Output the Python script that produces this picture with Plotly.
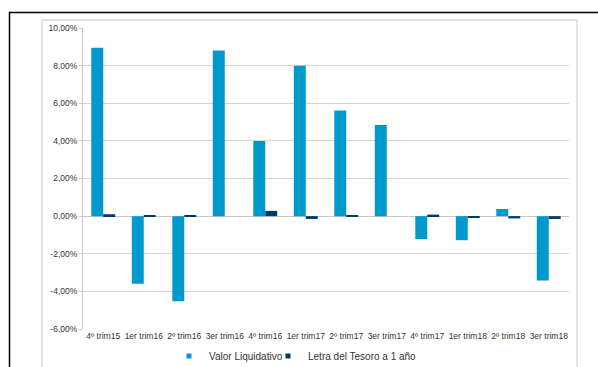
import plotly.graph_objects as go

categories = ["4º trim15", "1er trim16", "2º trim16", "3er trim16", "4º trim16", "1er trim17",
              "2º trim17", "3er trim17", "4º trim17", "1er trim18", "2º trim18", "3er trim18"]
valor_liquidativo = [8.95, -3.60, -4.52, 8.80, 4.00, 8.00, 5.62, 4.85, -1.22, -1.28, 0.38, -3.42]
letra_tesoro = [0.10, 0.02, 0.02, 0.00, 0.28, -0.15, 0.02, 0.00, 0.08, -0.08, -0.12, -0.15]
y_ticks = [-6, -4, -2, 0, 2, 4, 6, 8, 10]

BLUE = "#0099CC"
NAVY = "#003A66"
FONT = "Liberation Sans, Arial, sans-serif"

fig = go.Figure()
fig.add_trace(go.Bar(x=categories, y=valor_liquidativo, name="Valor Liquidativo",
                     marker=dict(color=BLUE, line=dict(width=0)), legendgroup="vl",
                     showlegend=False))
fig.add_trace(go.Bar(x=categories, y=letra_tesoro, name="Letra del Tesoro a 1 año",
                     marker=dict(color=NAVY, line=dict(width=0)), legendgroup="lt",
                     showlegend=False))
# legend entries with small square keys (as in the original Excel legend)
fig.add_trace(go.Scatter(x=[None], y=[None], mode="markers", name="Valor Liquidativo",
                         marker=dict(symbol="square", size=5, color=BLUE),
                         legendgroup="vl", legend="legend", hoverinfo="skip"))
fig.add_trace(go.Scatter(x=[None], y=[None], mode="markers", name="Letra del Tesoro a 1 año",
                         marker=dict(symbol="square", size=5, color=NAVY),
                         legendgroup="lt", legend="legend2", hoverinfo="skip"))

W, H = 598, 367
L, R, T, B = 83, 569, 28, 329
pw, ph = R - L, B - T


def px(x):
    return (x - L) / pw


def py(y):
    return (B - y) / ph


shapes = [
    # light grey chart-area frame
    dict(type="rect", xref="paper", yref="paper", x0=px(42), x1=px(577), y0=py(400), y1=py(20),
         line=dict(color="#C8C8C8", width=1), fillcolor="rgba(0,0,0,0)", layer="below"),
    # black outer frame (top and left)
    dict(type="line", xref="paper", yref="paper", x0=px(9), x1=px(620), y0=py(12.5), y1=py(12.5),
         line=dict(color="#000000", width=1.5)),
    dict(type="line", xref="paper", yref="paper", x0=px(9.5), x1=px(9.5), y0=py(12), y1=py(400),
         line=dict(color="#000000", width=1.5)),
]

legend_style = dict(orientation="h", xanchor="left", yanchor="middle", y=py(356),
                    font=dict(size=10, color="#333333"), bgcolor="rgba(0,0,0,0)",
                    itemwidth=30, tracegroupgap=0, indentation=-15)

fig.update_layout(
    width=W, height=H,
    margin=dict(l=L, r=W - R, t=T, b=H - B, autoexpand=False),
    paper_bgcolor="white", plot_bgcolor="white",
    separators=",.",
    barmode="group", bargap=0.41, bargroupgap=0,
    font=dict(family=FONT, size=8.5, color="#333333"),
    showlegend=True,
    legend=dict(x=px(184), **legend_style),
    legend2=dict(x=px(283), **legend_style),
    shapes=shapes,
    xaxis=dict(showgrid=False, showline=False, ticks="", tickfont=dict(size=8.5),
               tickangle=0, automargin=False),
    yaxis=dict(range=[-6, 10], tickvals=y_ticks, ticktext=[f"{v:.2f}%".replace(".", ",") for v in y_ticks],
               showgrid=True, gridcolor="#D4D4D4", gridwidth=1,
               zeroline=True, zerolinecolor="#C8C8C8", zerolinewidth=1,
               showline=True, linecolor="#C8C8C8", linewidth=1,
               ticks="outside", ticklen=3, tickcolor="#C8C8C8",
               tickfont=dict(size=8.5), automargin=False),
)

fig.write_html("out.html")
